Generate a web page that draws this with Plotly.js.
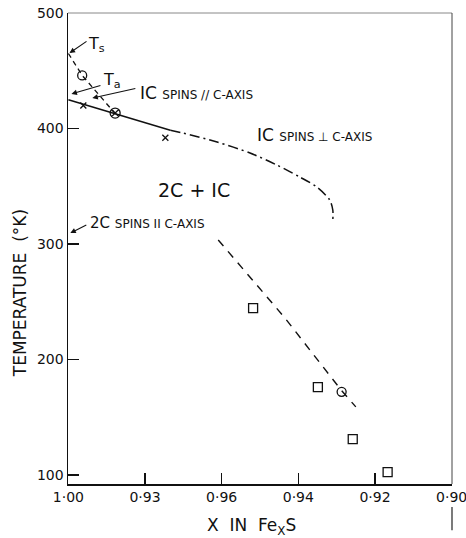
<!DOCTYPE html>
<html>
<head>
<meta charset="utf-8">
<script src="https://cdn.plot.ly/plotly-3.0.1.min.js"></script>
<style>html,body{margin:0;padding:0;background:#fff;}#chart{width:466px;height:538px;}</style>
</head>
<body>
<div id="chart"></div>
<script>
// Axis ticks (labels as printed in the figure)
const xTickVals = [1.00, 0.98, 0.96, 0.94, 0.92, 0.90];
const xTickText = ['1·00', '0·93', '0·96', '0·94', '0·92', '0·90'];
const yTickVals = [100, 200, 300, 400, 500];

// Ts -> Ta dashed boundary
const tsLineX = [1.00, 0.9964, 0.9878];
const tsLineT = [465, 446, 413];
// IC spins // c-axis boundary (solid)
const icParX = [1.00, 0.9878, 0.9734];
const icParT = [425, 413, 398.5];
// IC spins perpendicular boundary (dash-dot)
const icPerpX = [0.9734, 0.9700, 0.9612, 0.9526, 0.9456, 0.9396, 0.9352, 0.9318, 0.9310, 0.9310];
const icPerpT = [398.5, 396, 388.3, 378.8, 368.4, 358.0, 349.4, 338.1, 329.4, 320.5];
// 2C boundary (dashed)
const twoCX = [0.9609, 0.9435, 0.9287, 0.9250];
const twoCT = [303.5, 236, 173, 159];

// Data points
const circleX = [0.9964, 0.9287];
const circleT = [446, 172];
const crossCircleX = [0.9878];
const crossCircleT = [413.4];
const crossX = [0.9961, 0.9747];
const crossT = [420, 392];
const squareX = [0.9518, 0.9349, 0.9258, 0.9167];
const squareT = [244.5, 176, 131, 102.5];

const F = 'DejaVu Sans, sans-serif';
const K = '#111';

const traces = [
  {x: tsLineX, y: tsLineT, mode: 'lines', line: {color: K, width: 1.3, dash: '5px,4px'}, hoverinfo: 'skip'},
  {x: icParX, y: icParT, mode: 'lines', line: {color: K, width: 1.5}, hoverinfo: 'skip'},
  {x: icPerpX, y: icPerpT, mode: 'lines', line: {color: K, width: 1.5, dash: '10px,4px,2px,4px', shape: 'spline', smoothing: 0.8}, hoverinfo: 'skip'},
  {x: twoCX, y: twoCT, mode: 'lines', line: {color: K, width: 1.4, dash: '8px,7px'}, hoverinfo: 'skip'},
  {x: circleX, y: circleT, mode: 'markers', marker: {symbol: 'circle-open', size: 9, color: K, line: {width: 1.3}}},
  {x: crossCircleX, y: crossCircleT, mode: 'markers', marker: {symbol: 'circle-x-open', size: 10, color: K, line: {width: 1.3}}},
  {x: crossX, y: crossT, mode: 'markers', marker: {symbol: 'x-thin-open', size: 6, color: K, line: {width: 1.3}}},
  {x: squareX, y: squareT, mode: 'markers', marker: {symbol: 'square-open', size: 9, color: K, line: {width: 1.3}}}
];

function arrow(x, y, ax, ay) {
  return {x: x, y: y, xref: 'x', yref: 'y', ax: ax, ay: ay, showarrow: true, arrowhead: 2,
          arrowsize: 1, arrowwidth: 1.1, arrowcolor: K, text: ' ', font: {size: 2}};
}
function label(x, y, text, size, anchor) {
  return {x: x, y: y, xref: 'x', yref: 'y', text: text, showarrow: false,
          xanchor: anchor || 'left', yanchor: 'middle', font: {family: F, size: size, color: K}};
}

const annotations = [
  arrow(0.9997, 465.4, 19, -13),
  arrow(0.9992, 430, 31, -9),
  arrow(0.99375, 426.4, 45, -10),
  arrow(0.9995, 309.5, 18, -9),
  label(0.9927, 473, 'T<sub>s</sub>', 16, 'center'),
  label(0.9885, 442, 'T<sub>a</sub>', 16, 'center'),
  label(0.9818, 430.7, 'IC <span style="font-size:12px">SPINS // C-AXIS</span>', 17),
  label(0.9513, 394.4, 'IC <span style="font-size:12px">SPINS ⊥ C-AXIS</span>', 17),
  label(0.9672, 346.8, '2C + IC', 19, 'center'),
  label(0.9948, 318.2, '2C <span style="font-size:12px">SPINS II C-AXIS</span>', 15),
  {xref: 'paper', yref: 'paper', x: -0.125, y: 0.405, text: 'TEMPERATURE  (°K)', textangle: -90,
   showarrow: false, xanchor: 'center', yanchor: 'middle', font: {family: F, size: 17, color: K}},
  {xref: 'paper', yref: 'paper', x: 0.4766, y: -0.091, text: 'X  IN  Fe<sub>X</sub>S',
   showarrow: false, xanchor: 'center', yanchor: 'middle', font: {family: F, size: 17, color: K}}
];

const layout = {
  width: 466, height: 538,
  margin: {l: 68, r: 14, t: 13, b: 54},
  paper_bgcolor: '#fff', plot_bgcolor: '#fff',
  showlegend: false,
  font: {family: F, color: K},
  xaxis: {
    range: [1.0001, 0.8999], tickvals: xTickVals, ticktext: xTickText,
    ticks: 'inside', ticklen: 11, tickwidth: 1.3, tickcolor: K, ticklabeloverflow: 'allow',
    showline: true, linecolor: K, linewidth: 1.5, showgrid: false, zeroline: false,
    tickfont: {family: F, size: 14, color: K}
  },
  yaxis: {
    range: [92.2, 500.05], tickvals: yTickVals,
    ticks: 'inside', ticklen: 11, tickwidth: 1.3, tickcolor: K,
    showline: true, linecolor: K, linewidth: 1.5, showgrid: false, zeroline: false,
    tickfont: {family: F, size: 14, color: K}
  },
  shapes: [
    {type: 'line', xref: 'paper', yref: 'paper', x0: 0, x1: 1, y0: 1, y1: 1, line: {color: '#888', width: 1}},
    {type: 'line', xref: 'paper', yref: 'paper', x0: 1, x1: 1, y0: 0, y1: 1, line: {color: '#444', width: 1}},
    {type: 'line', xref: 'paper', yref: 'paper', x0: 1, x1: 1, y0: -0.049, y1: -0.098, line: {color: '#222', width: 1.2}}
  ],
  annotations: annotations
};

Plotly.newPlot('chart', traces, layout, {displayModeBar: false, staticPlot: true});
</script>
</body>
</html>
